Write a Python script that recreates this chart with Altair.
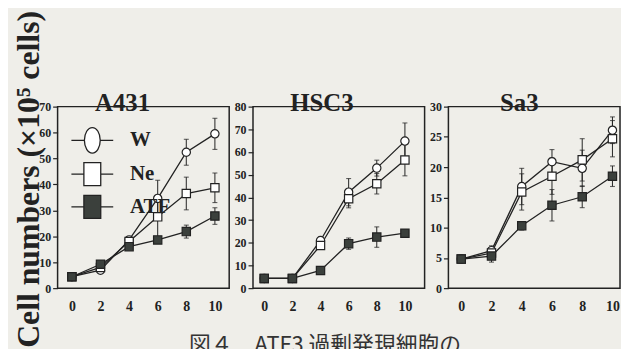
import altair as alt
import pandas as pd

days = [0, 2, 4, 6, 8, 10]
series_names = ["W", "Ne", "ATF"]
panel_names = ["A431", "HSC3", "Sa3"]

a431_w = [4.4, 6.9, 18.6, 34.6, 52.4, 59.5]
a431_w_err = [0, 0, 1.0, 7.0, 5.0, 6.0]
a431_ne = [4.4, 8.0, 18.0, 27.5, 36.5, 38.7]
a431_ne_err = [0, 0, 1.0, 8.0, 6.3, 5.7]
a431_atf = [4.4, 9.2, 16.0, 18.6, 21.8, 27.8]
a431_atf_err = [0, 0, 0.8, 1.0, 2.5, 3.2]

hsc3_w = [4.3, 4.3, 21.0, 42.3, 52.9, 64.8]
hsc3_w_err = [0, 0, 1.5, 6.0, 3.5, 8.0]
hsc3_ne = [4.3, 4.3, 18.8, 39.4, 46.0, 56.5]
hsc3_ne_err = [0, 0, 1.5, 4.0, 4.5, 7.0]
hsc3_atf = [4.3, 4.3, 7.8, 19.6, 22.5, 24.2]
hsc3_atf_err = [0, 0, 0.8, 2.5, 4.5, 1.0]

sa3_w = [4.8, 6.2, 16.8, 20.9, 19.8, 26.1]
sa3_w_err = [0.3, 0.8, 3.0, 2.0, 3.0, 2.2]
sa3_ne = [4.8, 5.8, 15.9, 18.5, 21.2, 24.7]
sa3_ne_err = [0.3, 0.8, 3.0, 3.0, 3.5, 3.0]
sa3_atf = [4.8, 5.3, 10.3, 13.7, 15.1, 18.5]
sa3_atf_err = [0.4, 1.0, 0.7, 2.6, 1.8, 1.7]

y_max = [70, 80, 30]
y_step = [10, 10, 5]
x_domains = [[-1.0, 11.0], [-0.8, 11.4], [-0.85, 10.5]]
y_title = "Cell numbers (×10⁵ cells)"
caption = "図４　ATF3 過剰発現細胞の"

panel_values = {
    "A431": [(a431_w, a431_w_err), (a431_ne, a431_ne_err), (a431_atf, a431_atf_err)],
    "HSC3": [(hsc3_w, hsc3_w_err), (hsc3_ne, hsc3_ne_err), (hsc3_atf, hsc3_atf_err)],
    "Sa3": [(sa3_w, sa3_w_err), (sa3_ne, sa3_ne_err), (sa3_atf, sa3_atf_err)],
}

rows = []
for p in panel_names:
    for s, (vals, errs) in zip(series_names, panel_values[p]):
        for d, v, e in zip(days, vals, errs):
            rows.append({"panel": p, "series": s, "day": d, "value": v,
                         "lo": v - e, "hi": v + e, "err": e})
df = pd.DataFrame(rows)

INK = "#222222"
SERIF = "Liberation Serif"
CIRCLE_PATH = "M-1.24,0H-0.47M0.47,0H1.24M-0.47,0A0.47,0.76 0 1,1 0.47,0A0.47,0.76 0 1,1 -0.47,0Z"
SQUARE_PATH = "M-1.24,0H-0.5M0.5,0H1.24M-0.5,-0.68H0.5V0.68H-0.5Z"

widths = [173, 173, 173]
title_dx = [-21, -17, -15]
title_offset = [-103, -12, -12]


def make_panel(i):
    p = panel_names[i]
    base = alt.Chart(df[df.panel == p])
    y_kw = dict(
        values=list(range(0, y_max[i] + 1, y_step[i])), grid=False, domain=False,
        tickSize=5, tickWidth=1.2, tickColor=INK, labelPadding=2, labelOverlap=False,
        labelFont=SERIF, labelFontWeight="bold", labelFontSize=12, labelColor=INK,
    )
    if i == 0:
        y_axis = alt.Axis(
            **y_kw,
            title=y_title, titleFont=SERIF, titleFontSize=32, titleFontWeight="bold",
            titleColor=INK, titleAngle=270, titleAlign="right", titleBaseline="alphabetic",
            titleX=-19, titleY=-97,
        )
    else:
        y_axis = alt.Axis(**y_kw, title=None)
    x_kw = dict(
        values=days, ticks=False, domain=False, grid=False, labelPadding=12,
        labelOverlap=False, labelFont=SERIF, labelFontWeight="bold", labelFontSize=14,
        labelColor=INK, labelAngle=0,
    )
    if i == 1:
        x_axis = alt.Axis(
            **x_kw, title=caption, titleFont="Noto Sans CJK JP",
            titleFontSize=22, titleFontWeight="normal", titleColor="#333333",
            titleAlign="left", titleBaseline="top", titleX=-65, titleY=47,
        )
    else:
        x_axis = alt.Axis(**x_kw, title=None)
    xsc = alt.Scale(domain=x_domains[i], nice=False, zero=False)
    ysc = alt.Scale(domain=[0, y_max[i]], nice=False)
    x = alt.X("day:Q", scale=xsc, axis=x_axis)
    y = alt.Y("value:Q", scale=ysc, axis=y_axis)
    y_lo = alt.Y("lo:Q", scale=ysc, axis=y_axis)
    y_hi = alt.Y("hi:Q", scale=ysc, axis=y_axis)

    errs = base.transform_filter("datum.err > 0")
    rule = errs.mark_rule(color=INK, strokeWidth=1.0).encode(x=x, y=y_lo, y2="hi:Q")
    cap_lo = errs.mark_tick(orient="horizontal", size=5, thickness=1.1, color=INK).encode(x=x, y=y_lo)
    cap_hi = errs.mark_tick(orient="horizontal", size=5, thickness=1.1, color=INK).encode(x=x, y=y_hi)
    line = base.mark_line(color=INK, strokeWidth=1.3).encode(x=x, y=y, detail="series:N")
    pts = base.mark_point(filled=True, size=70, stroke=INK, strokeWidth=1.2, opacity=1).encode(
        x=x, y=y,
        shape=alt.Shape("series:N", scale=alt.Scale(domain=series_names, range=["circle", "square", "square"]), legend=None),
        fill=alt.Fill("series:N", scale=alt.Scale(domain=series_names, range=["#ffffff", "#ffffff", "#3b403c"]), legend=None),
    )
    layers = [line, rule, cap_lo, cap_hi, pts]
    if i == 0:
        leg = alt.Legend(
            title=None, orient="none", legendX=17, legendY=16, padding=0,
            symbolSize=1156, symbolStrokeWidth=1.3, symbolStrokeColor=INK,
            labelFont=SERIF, labelFontWeight="bold", labelFontSize=21, labelColor=INK,
            labelOffset=20, rowPadding=-13, labelBaseline="middle",
        )
        carrier = base.transform_filter("false").mark_point(filled=True, strokeWidth=1.3, opacity=1).encode(
            x=x, y=y,
            shape=alt.Shape("series:N", scale=alt.Scale(domain=series_names, range=[CIRCLE_PATH, SQUARE_PATH, SQUARE_PATH]), legend=leg),
            fill=alt.Fill("series:N", scale=alt.Scale(domain=series_names, range=["#ffffff", "#ffffff", "#3b403c"]), legend=leg),
            stroke=alt.Stroke("series:N", scale=alt.Scale(domain=series_names, range=[INK, INK, INK]), legend=leg),
        )
        layers.append(carrier)
    ch = alt.layer(*layers).properties(
        width=widths[i], height=183,
        title=alt.TitleParams(text=p, font=SERIF, fontSize=25, fontWeight="bold", color=INK,
                              anchor="middle", frame="group", dx=title_dx[i], dy=23,
                              offset=title_offset[i], baseline="alphabetic"),
    )
    if i == 0:
        ch = ch.resolve_scale(shape="independent", fill="independent", stroke="independent")
    return ch


chart = alt.hconcat(*[make_panel(i) for i in range(3)], spacing=24, bounds="flush").properties(
    padding={"left": 4, "top": 0, "right": 0, "bottom": 0},
    background="#efeee9",
).configure_view(stroke=INK, strokeWidth=1.5).configure_axis(labelOverlap=False)

chart.save("out.html", embed_options={"renderer": "svg", "actions": False})
